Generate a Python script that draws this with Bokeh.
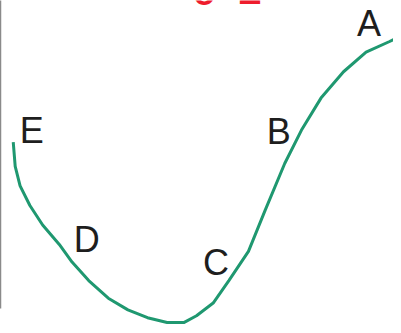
from bokeh.plotting import figure
from bokeh.models import Range1d, LinearAxis, FixedTicker
from bokeh.core.properties import value
from bokeh.embed import file_html
from bokeh.resources import INLINE

# Curve (reaction coordinate vs energy, arbitrary units)
curve_x = [13, 15, 20, 30, 43, 60, 73, 90, 110, 130, 150, 170, 187, 200, 217,
           233, 253, 270, 290, 307, 327, 350, 373, 397, 401]
curve_y = [188, 163, 143, 123, 103, 83, 65, 46, 28, 16, 8, 3, 3, 10, 23,
           46, 76, 118, 166, 200, 233, 260, 280, 291, 293]

# Point labels
label_text = ["A", "B", "C", "D", "E"]
label_x = [376, 284, 220, 88, 32]
label_y = [309, 199, 65, 88, 200]

# Red title fragment (cut off at the top)
title_text = ["o", "E"]
title_x = [208, 254]
title_y = [341, 342]

p = figure(width=393, height=325, output_backend="svg", toolbar_location=None,
           x_range=Range1d(0, 401), y_range=Range1d(0, 333),
           min_border=0, min_border_left=0, min_border_right=0,
           min_border_top=0, min_border_bottom=0,
           x_axis_type=None, y_axis_type=None)
p.grid.visible = False
p.outline_line_color = None
p.background_fill_color = "white"

yax = LinearAxis(bounds=(17, 333), ticker=FixedTicker(ticks=[]),
                 axis_line_color="#8a8a8a", axis_line_width=1.5,
                 major_tick_line_color=None, minor_tick_line_color=None,
                 major_tick_out=0, major_tick_in=0, minor_tick_out=0, minor_tick_in=0,
                 major_label_standoff=0)
p.add_layout(yax, "left")

p.line(curve_x, curve_y, line_color="#1f9870", line_width=3)

p.text(label_x, label_y, text=label_text, text_font=value("Liberation Sans"),
       text_font_size="36px", text_color="#1e1e1e",
       text_align="center", text_baseline="middle")

p.text(title_x, title_y, text=title_text, text_font=value("Liberation Sans"),
       text_font_size="36px", text_color="#ee1c2c", text_font_style="bold",
       text_align="center", text_baseline="alphabetic")

open("out.html", "w").write(file_html(p, INLINE))
